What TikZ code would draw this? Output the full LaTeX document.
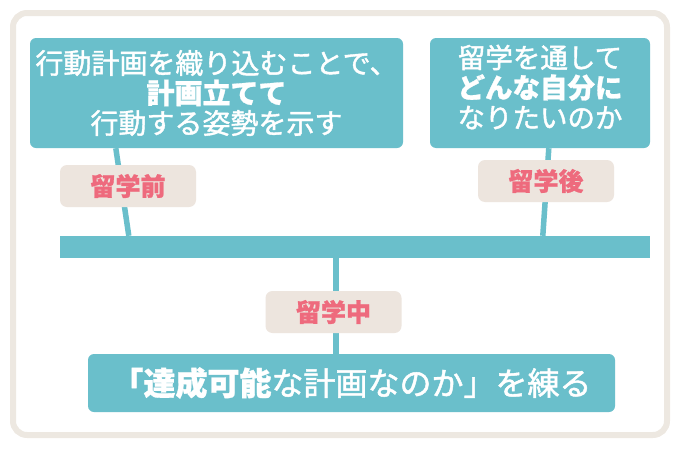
\documentclass[tikz,border=0pt]{standalone}
\usepackage{fontspec}
\setmainfont{Noto Sans CJK JP}[UprightFeatures={FakeBold=1.5},BoldFeatures={FakeBold=1}]
\usetikzlibrary{calc}
\definecolor{teal}{HTML}{6ABFCB}
\definecolor{beige}{HTML}{EDE5DE}
\definecolor{framec}{HTML}{EDE8E1}
\definecolor{pinktx}{HTML}{EE6A7D}
\tikzset{
  bluebox/.style={fill=teal, rounded corners=6pt, inner sep=0pt, text=white, align=center},
  boxtext/.style={inner sep=0pt, text=white, align=center},
  tag/.style={fill=beige, rounded corners=7pt, inner sep=0pt, text=pinktx,
    minimum width=136pt, minimum height=42pt, font=\fontsize{25}{25}\selectfont\bfseries},
  link/.style={draw=teal, line width=5.5pt}
}
\begin{document}
\begin{tikzpicture}[x=1pt,y=-1pt]
\useasboundingbox (0,0) rectangle (680,450);
\draw[framec, line width=6pt, fill=white, rounded corners=14pt] (13,13) rectangle (667,435);

\node[bluebox, minimum width=373pt, minimum height=110pt,
  font=\fontsize{28}{30}\selectfont] (lbox) at (216.5,93)
  {行動計画を織り込むことで、\\ {\bfseries 計画立てて}\\ 行動する姿勢を示す};
\node[bluebox, minimum width=220pt, minimum height=110pt] (rbox) at (540,93) {};
\node[boxtext, font=\fontsize{27.5}{30}\selectfont] (rtext) at ($(rbox.center)+(0,-6)$)
  {留学を通して\\ {\bfseries どんな自分に}\\ なりたいのか};
\node[fill=teal, inner sep=0pt, minimum width=590pt, minimum height=22pt] (bar) at (355,247) {};
\node[bluebox, minimum width=527pt, minimum height=58pt,
  font=\fontsize{32}{32}\selectfont] (bbox) at (351.5,383)
  {{\bfseries 「達成可能}な計画なのか」を練る};

\draw[link] ($(lbox.south west)+(86,0)$) -- ($(bar.north west)+(69,0)$);
\draw[link] ($(rbox.south west)+(119,0)$) -- ($(bar.north west)+(483,0)$);
\draw[link] ($(bar.south west)+(276,0)$) -- ($(bbox.north west)+(248,0)$);

\node[tag] (t1) at (128,186) {留学前};
\node[tag] (t2) at (546,181) {留学後};
\node[tag] (t3) at (333.5,312) {留学中};
\end{tikzpicture}
\end{document}
